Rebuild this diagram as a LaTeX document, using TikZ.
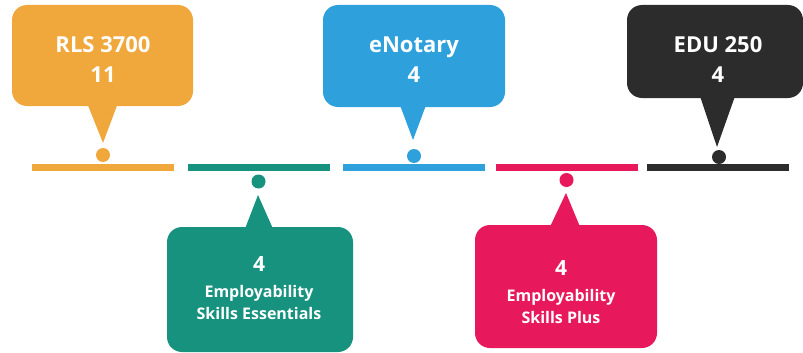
\documentclass[tikz,border=0pt]{standalone}
\usepackage{fontspec}
\setmainfont{Open Sans}
\usetikzlibrary{calc}
\definecolor{tlorange}{RGB}{240,167,59}
\definecolor{tlteal}{RGB}{22,146,126}
\definecolor{tlblue}{RGB}{46,160,220}
\definecolor{tlpink}{RGB}{232,24,92}
\definecolor{tldark}{RGB}{44,44,44}
\begin{document}
\begin{tikzpicture}[x=1pt, y=-1pt,
  bubble/.style={rounded corners=15pt, inner sep=0pt},
  bar/.style={minimum width=142pt, minimum height=7pt, inner sep=0pt},
  dot/.style={circle, minimum size=14pt, inner sep=0pt},
  toptxt/.style={text=white, align=center, inner sep=0pt, font=\bfseries\fontsize{22}{30}\selectfont},
  lowtxt/.style={text=white, align=center, inner sep=0pt, font=\bfseries\fontsize{16}{22}\selectfont}]

\useasboundingbox (0,0) rectangle (803,353);

% timeline
\node[bar, fill=tlorange] (bar1) at (103,167) {};
\node[bar, fill=tlteal] (bar2) at (258.5,167) {};
\node[bar, fill=tlblue] (bar3) at (414,167) {};
\node[bar, fill=tlpink] (bar4) at (566.5,167) {};
\node[bar, fill=tldark] (bar5) at (718,167.5) {};

% callouts above
\node[bubble, fill=tlorange, minimum width=181pt, minimum height=101pt] (box1) at (102.5,55.5) {};
\coordinate (tip1) at (103,143);
\fill[tlorange] ($(box1.south)+(-15,-2)$) -- (tip1) -- ($(box1.south)+(15,-2)$) -- cycle;
\node[dot, fill=tlorange] (dot1) at (103,155) {};
\node[toptxt] (txt1) at (103,59.5) {RLS 3700\\11};

\node[bubble, fill=tlblue, minimum width=182pt, minimum height=102pt] (box3) at (414,56) {};
\coordinate (tip3) at (413,140);
\fill[tlblue] ($(box3.south)+(-14,-2)$) -- (tip3) -- ($(box3.south)+(12,-2)$) -- cycle;
\node[dot, fill=tlblue] (dot3) at (414,156) {};
\node[toptxt] (txt3) at (414,59.5) {eNotary\\4};

\node[bubble, fill=tldark, minimum width=176pt, minimum height=93pt] (box5) at (715,51.5) {};
\coordinate (tip5) at (717,147);
\fill[tldark] ($(box5.south)+(-15,-2)$) -- (tip5) -- ($(box5.south)+(20,-2)$) -- cycle;
\node[dot, fill=tldark] (dot5) at (719,157) {};
\node[toptxt] (txt5) at (718,60) {EDU 250\\4};

% callouts below
\node[bubble, fill=tlteal, minimum width=186pt, minimum height=125pt] (box2) at (260,289.5) {};
\coordinate (tip2) at (258,195);
\fill[tlteal] ($(box2.north)+(-15,2)$) -- (tip2) -- ($(box2.north)+(13,2)$) -- cycle;
\node[dot, fill=tlteal] (dot2) at (258.5,181.5) {};
\node[lowtxt] (txt2) at (259,288.5) {{\fontsize{21}{22}\selectfont 4}\\[4pt]Employability\\Skills Essentials};

\node[bubble, fill=tlpink, minimum width=182pt, minimum height=123pt] (box4) at (566,286.5) {};
\coordinate (tip4) at (566,193);
\fill[tlpink] ($(box4.north)+(-16,2)$) -- (tip4) -- ($(box4.north)+(14,2)$) -- cycle;
\node[dot, fill=tlpink] (dot4) at (566.5,180) {};
\node[lowtxt] (txt4) at (561,292) {{\fontsize{21}{22}\selectfont 4}\\[4pt]Employability\\Skills Plus};

\end{tikzpicture}
\end{document}
